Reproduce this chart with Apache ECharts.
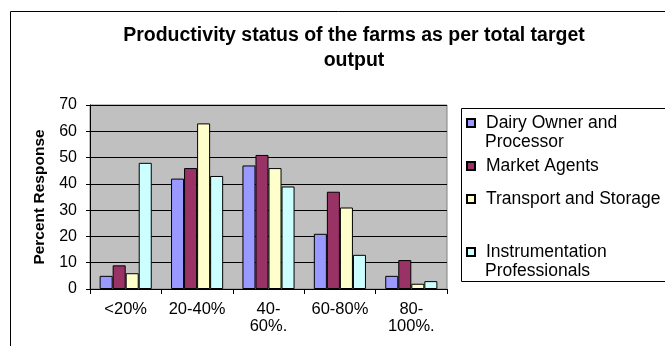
<!DOCTYPE html>
<html>
<head>
<meta charset="utf-8">
<script src="https://cdn.jsdelivr.net/npm/echarts@6/dist/echarts.min.js"></script>
<style>
  html, body { margin: 0; padding: 0; background: #fff; }
  #chart { width: 665px; height: 346px; }
</style>
</head>
<body>
<div id="chart"></div>
<script>
const categories = ['<20%', '20-40%', '40-\n60%.', '60-80%', '80-\n100%.'];
const dairyOwner = [5, 42, 47, 21, 5];
const marketAgents = [9, 46, 51, 37, 11];
const transportStorage = [6, 63, 46, 31, 2];
const instrumentation = [48, 43, 39, 13, 3];
const yTicks = [0, 10, 20, 30, 40, 50, 60, 70];

// Legend entries: first line goes into the legend item, a second line (if any) is drawn beneath it
const seriesDefs = [
  { name: 'Dairy Owner and Processor', first: 'Dairy Owner and', second: 'Processor', data: dairyOwner, color: '#9999FF', y: 123, y2: 142 },
  { name: 'Market Agents', first: 'Market Agents', second: null, data: marketAgents, color: '#993366', y: 166 },
  { name: 'Transport and Storage', first: 'Transport and Storage', second: null, data: transportStorage, color: '#FFFFCC', y: 199 },
  { name: 'Instrumentation Professionals', first: 'Instrumentation', second: 'Professionals', data: instrumentation, color: '#CCFFFF', y: 252, y2: 271 }
];

const font = 'Arial, "Liberation Sans", sans-serif';
const legendFont = 17.5;
const textLeft = 485;
const chart = echarts.init(document.getElementById('chart'));

const graphics = [
  { type: 'rect', shape: { x: 10.5, y: 11.5, width: 700, height: 400 }, style: { fill: 'none', stroke: '#000', lineWidth: 1 }, z: -1 },
  { type: 'rect', shape: { x: 461.5, y: 108.5, width: 300, height: 173 }, style: { fill: '#fff', stroke: '#000', lineWidth: 1 }, z: 0 }
];
seriesDefs.filter(s => s.second).forEach(s => {
  graphics.push({
    type: 'text', left: textLeft, top: s.y2 - 9, z: 5,
    style: { text: s.second, fill: '#000', font: legendFont + 'px ' + font }
  });
});

chart.setOption({
  animation: false,
  backgroundColor: '#ffffff',
  textStyle: { fontFamily: font },
  title: {
    text: 'Productivity status of the farms as per total target\noutput',
    left: 349,
    textAlign: 'center',
    top: 18,
    textStyle: { fontFamily: font, fontSize: 19.5, fontWeight: 'bold', color: '#000', lineHeight: 25 }
  },
  graphic: graphics,
  legend: seriesDefs.map(s => ({
    data: [s.name],
    left: 466,
    top: s.y - 9.5,
    icon: 'rect',
    itemWidth: 8,
    itemHeight: 8,
    itemGap: 0,
    padding: 0,
    formatter: () => s.first,
    textStyle: { fontFamily: font, fontSize: legendFont, color: '#000', lineHeight: 19, padding: [0, 0, 0, 6] },
    z: 5
  })),
  grid: {
    left: 90, right: 218, top: 105, bottom: 57,
    show: true, backgroundColor: '#C0C0C0', borderColor: '#808080', borderWidth: 1
  },
  xAxis: {
    type: 'category',
    data: categories,
    axisLine: { lineStyle: { color: '#000' } },
    axisTick: { show: true, length: 5, lineStyle: { color: '#000' } },
    axisLabel: { color: '#000', fontSize: 16.5, fontFamily: font, lineHeight: 17, margin: 12, interval: 0 }
  },
  yAxis: {
    type: 'value',
    min: yTicks[0],
    max: yTicks[yTicks.length - 1],
    interval: 10,
    name: 'Percent Response',
    nameLocation: 'middle',
    nameGap: 42,
    nameTextStyle: { fontFamily: font, fontSize: 15.5, fontWeight: 'bold', color: '#000' },
    axisLine: { show: true, lineStyle: { color: '#000' } },
    axisTick: { show: true, length: 4, lineStyle: { color: '#000' } },
    axisLabel: { color: '#000', fontSize: 16, fontFamily: font, margin: 13 },
    splitLine: { lineStyle: { color: '#000', width: 1 } }
  },
  series: seriesDefs.map(s => ({
    name: s.name,
    type: 'bar',
    data: s.data,
    barGap: '0%',
    barCategoryGap: '27%',
    itemStyle: { color: s.color, borderColor: '#000', borderWidth: 1 }
  }))
});
</script>
</body>
</html>
